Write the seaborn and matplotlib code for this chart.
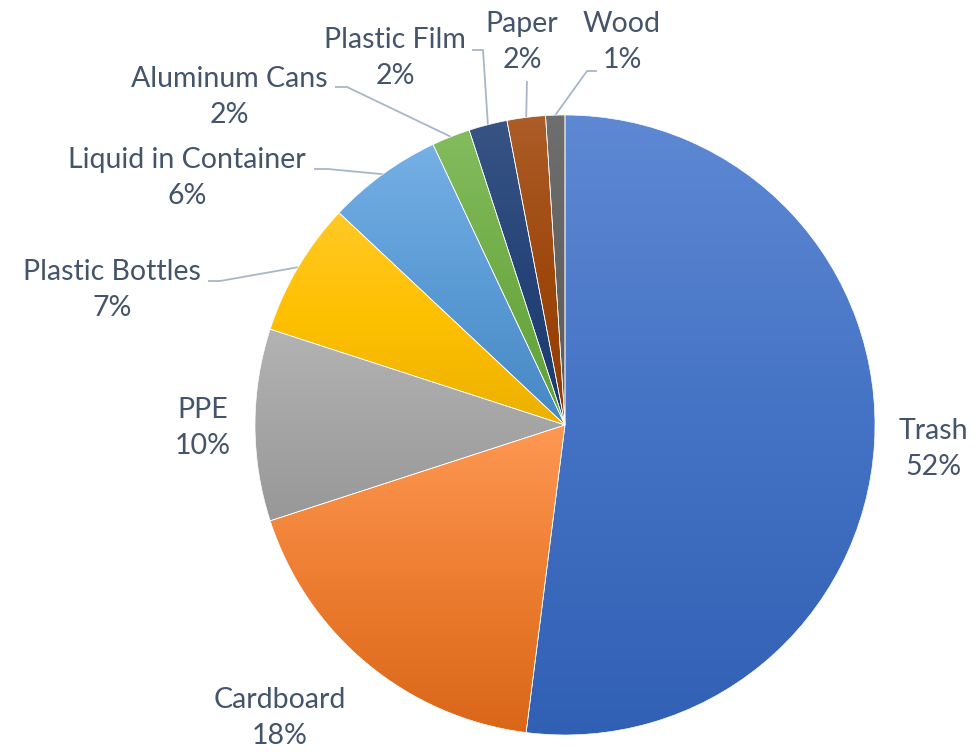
import numpy as np
import matplotlib
matplotlib.use("Agg")
import matplotlib.pyplot as plt
import matplotlib.colors as mcolors
import seaborn as sns

# ---- data ----
categories = ["Trash", "Cardboard", "PPE", "Plastic Bottles", "Liquid in Container",
              "Aluminum Cans", "Plastic Film", "Paper", "Wood"]
values = [52, 18, 10, 7, 6, 2, 2, 2, 1]
pct_labels = ["52%", "18%", "10%", "7%", "6%", "2%", "2%", "2%", "1%"]
base_colors = ["#4472C4", "#ED7D31", "#A5A5A5", "#FFC000", "#5B9BD5",
               "#70AD47", "#264478", "#9E480E", "#636363"]

# ---- layout (pixel positions of label centres in a 979x752 canvas) ----
W, H = 979, 752
CX, CY, R = 565, 425, 310
label_px = {
    "Trash": (933, 449),
    "Cardboard": (280, 718),
    "PPE": (203, 428),
    "Plastic Bottles": (112, 290),
    "Liquid in Container": (187, 178),
    "Aluminum Cans": (229, 97),
    "Plastic Film": (395, 58),
    "Paper": (522, 42),
    "Wood": (622, 42),
}
# leader line start points (label side) and elbow
leader_px = {
    "Plastic Bottles": [(208, 281), (220, 281)],
    "Liquid in Container": [(314, 169), (328, 169)],
    "Aluminum Cans": [(335, 87), (347, 87)],
    "Plastic Film": [(472, 50), (483, 50)],
    "Paper": [(527, 81), (527, 81)],
    "Wood": [(597, 71), (587, 71)],
}

def px2d(p):
    return ((p[0] - CX) / R, (CY - p[1]) / R)

sns.set_theme(style="white")
plt.rcParams["font.family"] = ["Lato", "DejaVu Sans"]
text_color = "#44546A"
line_color = "#A9B6C8"

fig = plt.figure(figsize=(W / 100, H / 100), dpi=100)
ax = fig.add_axes([0, 0, 1, 1])

wedges, _ = ax.pie(values, startangle=90, counterclock=False, radius=1,
                   colors=sns.color_palette(base_colors),
                   wedgeprops=dict(linewidth=0.5, edgecolor="white"))

def hsv_adj(c, s_mul, v_mul, v_add=0.0):
    h, s, v = mcolors.rgb_to_hsv(mcolors.to_rgb(c))
    return tuple(mcolors.hsv_to_rgb((h, min(1, s * s_mul), min(1, v * v_mul + v_add))))

# vertical gradient fill per slice
for w, c in zip(wedges, base_colors):
    bb = w.get_path().get_extents(w.get_transform() - ax.transData)
    top = hsv_adj(c, 0.85, 1.04, 0.03)
    bot = hsv_adj(c, 1.12, 0.92)
    cmap = mcolors.LinearSegmentedColormap.from_list("g", [bot, c, top])
    grad = np.linspace(0, 1, 256).reshape(-1, 1)
    im = ax.imshow(grad, cmap=cmap, origin="lower", aspect="auto",
                   extent=(bb.x0, bb.x1, bb.y0, bb.y1), zorder=1.5)
    im.set_clip_path(w)
    w.set_zorder(1)
    w.set_facecolor("none")
    w.set_zorder(2)

# leader lines to slice mid-angle on the rim
cum = np.cumsum([0] + values[:-1])
total = sum(values)
for name, v, start in zip(categories, values, cum):
    if name not in leader_px:
        continue
    mid = (start + v / 2) / total * 360
    ang = np.deg2rad(90 - mid)
    rim = (np.cos(ang), np.sin(ang))
    pts = [px2d(p) for p in leader_px[name]] + [rim]
    xs, ys = zip(*pts)
    ax.plot(xs, ys, color=line_color, lw=1.3, zorder=0.5, solid_capstyle="butt")

for name, pl in zip(categories, pct_labels):
    x, y = px2d(label_px[name])
    ax.text(x, y, f"{name}\n{pl}", ha="center", va="center", fontsize=20.5,
            color=text_color, linespacing=1.5, zorder=3)

ax.set_xlim(-CX / R, (W - CX) / R)
ax.set_ylim((CY - H) / R, CY / R)
ax.set_aspect("equal", adjustable="box")
ax.axis("off")

fig.savefig("out.png", dpi=100, facecolor="white")
